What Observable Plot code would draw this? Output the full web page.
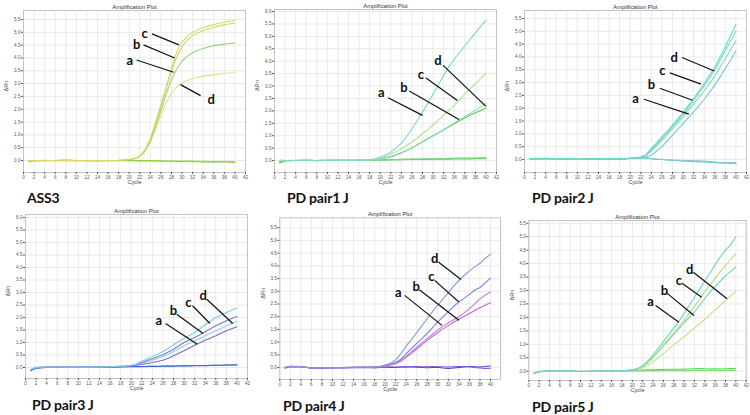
<!DOCTYPE html>
<html><head><meta charset="utf-8">
<script src="https://cdn.jsdelivr.net/npm/d3@7"></script>
<script src="https://cdn.jsdelivr.net/npm/@observablehq/plot@0.6"></script>
<style>
html,body{margin:0;padding:0;background:#fff}
body{width:750px;height:415px;position:relative;overflow:hidden;font-family:"Liberation Sans",Arial,sans-serif}
.panel{position:absolute}
.tag{position:absolute;font-family:Lato,"Open Sans",sans-serif;font-weight:700;font-size:14px;line-height:14px;color:#111;white-space:nowrap;letter-spacing:-0.2px}
</style></head><body>
<script>
// ---------- shared axes ----------
const cycles = [1,2,4,6,8,10,12,14,16,18,19,20,21,22,23,24,25,26,27,28,29,30,31,32,33,34,35,36,37,38,39,40];
const cycleTicks = [0,2,4,6,8,10,12,14,16,18,20,22,24,26,28,30,32,34,36,38,40,42];
const yTicks55 = [0,0.5,1,1.5,2,2.5,3,3.5,4,4.5,5,5.5];
const yTicks60 = [0,0.5,1,1.5,2,2.5,3,3.5,4,4.5,5,5.5,6];
const panelTitle = "Amplification Plot";
const xLabel = "Cycle";
const yLabel = "ΔRn";
const tags = ["ASS3","PD pair1 J","PD pair2 J","PD pair3 J","PD pair4 J","PD pair5 J"];

// ---------- ASS3 ----------
const p1_c = [0,0,0.01,0,0.01,0,0,0,0,0.01, 0.02,0.04,0.08,0.18,0.42,0.85,1.5,2.2,2.9,3.6,4.25,4.62,4.85,5.0,5.1,5.18,5.25,5.3,5.35,5.39,5.43,5.47];
const p1_b = [0,0,0,0,0.01,0,0,0,0,0.01, 0.02,0.04,0.08,0.17,0.4,0.8,1.43,2.1,2.8,3.48,4.05,4.45,4.7,4.87,4.98,5.07,5.14,5.2,5.25,5.29,5.33,5.36];
const p1_a = [-0.01,0,0,0,0.01,0,0,0,0,0.01, 0.02,0.04,0.07,0.16,0.38,0.75,1.33,1.95,2.6,3.15,3.58,3.88,4.07,4.2,4.3,4.37,4.43,4.48,4.51,4.54,4.56,4.58];
const p1_d = [0,0,0,0,0.01,0,0,0,0,0.01, 0.02,0.04,0.07,0.15,0.36,0.72,1.22,1.75,2.25,2.62,2.87,3.03,3.13,3.2,3.25,3.29,3.32,3.35,3.37,3.39,3.41,3.42];
const p1_n1 = [-0.03,-0.02,0,0,0.01,0,-0.01,-0.01,0,0, 0,0,0,0,0,0,-0.01,-0.01,-0.01,-0.02,-0.02,-0.02,-0.02,-0.02,-0.03,-0.03,-0.04,-0.04,-0.04,-0.04,-0.05,-0.05];
const p1_n2 = [-0.02,-0.01,0,-0.01,0,-0.01,-0.01,-0.02,-0.01,-0.01, -0.01,-0.01,-0.01,-0.02,-0.02,-0.02,-0.02,-0.03,-0.03,-0.03,-0.04,-0.04,-0.04,-0.05,-0.05,-0.06,-0.06,-0.07,-0.06,-0.06,-0.07,-0.08];

// ---------- PD pair1 J ----------
const p2_a = [0.02,0,0,0.01,0,0.01,0.01,0.01,0.02,0.03, 0.07,0.13,0.22,0.35,0.5,0.7,0.97,1.28,1.6,1.95,2.32,2.68,3.05,3.42,3.78,4.08,4.35,4.62,4.88,5.14,5.4,5.64];
const p2_c = [0.01,0,0,0.01,0,0.01,0.01,0.01,0.02,0.03, 0.06,0.1,0.17,0.26,0.36,0.48,0.61,0.75,0.91,1.08,1.25,1.43,1.62,1.82,2.02,2.22,2.44,2.67,2.88,3.09,3.3,3.52];
const p2_b = [-0.08,0,0,0.01,0,0.01,0.01,0.01,0.01,0.02, 0.04,0.07,0.11,0.16,0.23,0.31,0.41,0.52,0.64,0.76,0.88,1.0,1.12,1.24,1.36,1.48,1.6,1.71,1.82,1.92,2.02,2.12];
const p2_d = [-0.04,0,0,0.01,0,0.01,0.01,0.01,0.01,0.02, 0.04,0.06,0.1,0.15,0.22,0.3,0.4,0.51,0.63,0.75,0.87,0.99,1.11,1.24,1.38,1.51,1.64,1.77,1.9,2.03,2.16,2.3];
const p2_n1 = [-0.1,-0.02,0,0,-0.01,0,0.01,0.01,0.01,0.02, 0.02,0.03,0.03,0.04,0.04,0.04,0.05,0.05,0.05,0.05,0.05,0.06,0.06,0.06,0.06,0.07,0.07,0.07,0.07,0.08,0.08,0.08];
const p2_n2 = [-0.06,0,0.01,0.01,0,0.01,0.01,0,0.01,0.01, 0.02,0.02,0.03,0.03,0.04,0.05,0.05,0.06,0.06,0.07,0.07,0.07,0.08,0.08,0.09,0.09,0.1,0.1,0.1,0.1,0.11,0.11];

// ---------- PD pair2 J ----------
const p3_d = [0.02,0.03,0.04,0.03,0.02,0.01,0.02,0.03,0.02,0.02, 0.03,0.05,0.07,0.1,0.18,0.43,0.65,0.88,1.1,1.34,1.58,1.82,2.1,2.38,2.67,2.96,3.28,3.6,4.0,4.4,4.83,5.27];
const p3_c = [0.02,0.03,0.04,0.03,0.02,0.01,0.02,0.03,0.02,0.02, 0.03,0.05,0.07,0.1,0.17,0.38,0.6,0.82,1.05,1.28,1.52,1.76,2.02,2.3,2.6,2.86,3.17,3.48,3.86,4.24,4.62,5.02];
const p3_b = [0.01,0.03,0.04,0.03,0.02,0.01,0.02,0.03,0.02,0.02, 0.03,0.05,0.07,0.09,0.15,0.32,0.53,0.75,0.97,1.2,1.43,1.66,1.92,2.17,2.42,2.68,2.96,3.25,3.6,3.94,4.28,4.63];
const p3_a = [0.01,0.02,0.04,0.03,0.02,0.01,0.02,0.03,0.02,0.02, 0.03,0.04,0.06,0.07,0.09,0.17,0.33,0.5,0.72,0.95,1.17,1.4,1.63,1.86,2.1,2.34,2.62,2.9,3.22,3.55,3.88,4.23];
const p3_n1 = [0.02,0.03,0.05,0.03,0.02,0.01,0.02,0.03,0.02,0.02, 0.03,0.05,0.06,0.07,0.05,0.03,0.01,0,-0.02,-0.03,-0.05,-0.06,-0.07,-0.08,-0.09,-0.1,-0.11,-0.12,-0.13,-0.13,-0.14,-0.15];
const p3_n2 = [0,0.02,0.03,0.02,0,0,0.01,0.02,0.01,0.01, 0.02,0.04,0.06,0.08,0.06,0.04,0.02,0,-0.01,-0.02,-0.03,-0.04,-0.04,-0.05,-0.05,-0.06,-0.08,-0.1,-0.12,-0.13,-0.12,-0.13];

// ---------- PD pair3 J ----------
const p4_t1 = [-0.08,0,0.02,0.02,0.01,0.02,0.01,0.02,0.03,0.05, 0.06,0.08,0.14,0.25,0.35,0.43,0.53,0.64,0.77,0.91,1.04,1.17,1.28,1.4,1.55,1.71,1.86,2.0,2.1,2.2,2.29,2.37];
const p4_t2 = [-0.09,0,0.02,0.02,0.01,0.02,0.01,0.02,0.03,0.05, 0.06,0.08,0.12,0.2,0.28,0.35,0.43,0.51,0.62,0.73,0.87,1.0,1.1,1.2,1.31,1.43,1.55,1.67,1.77,1.87,1.96,2.04];
const p4_t3 = [-0.08,0,0.02,0.02,0.01,0.02,0.01,0.02,0.03,0.05, 0.06,0.08,0.11,0.17,0.23,0.29,0.36,0.43,0.53,0.64,0.76,0.87,0.97,1.07,1.17,1.27,1.37,1.47,1.57,1.67,1.76,1.84];
const p4_t4 = [-0.1,0,0.02,0.02,0.01,0.02,0.01,0.02,0.03,0.04, 0.05,0.07,0.09,0.12,0.16,0.2,0.24,0.29,0.37,0.47,0.57,0.67,0.78,0.89,0.99,1.09,1.18,1.27,1.37,1.47,1.55,1.63];
const p4_n1 = [-0.1,-0.02,0.01,0.02,0.01,0.02,0.01,0.02,0.02,0.03, 0.03,0.04,0.04,0.04,0.05,0.05,0.05,0.06,0.06,0.06,0.07,0.07,0.07,0.08,0.08,0.08,0.09,0.09,0.09,0.1,0.1,0.1];
const p4_n2 = [-0.12,-0.03,0,0.01,0.02,0.01,0.02,0.02,0.01,0.02, 0.03,0.03,0.04,0.03,0.04,0.05,0.04,0.05,0.06,0.05,0.06,0.07,0.06,0.07,0.08,0.07,0.08,0.09,0.09,0.1,0.1,0.11];

// ---------- PD pair4 J ----------
const p5_t1 = [0,0.04,0.03,-0.02,-0.01,0,0,0.01,0.01,0.02, 0.04,0.1,0.17,0.3,0.55,0.85,1.1,1.38,1.65,1.93,2.2,2.45,2.7,2.95,3.2,3.42,3.62,3.8,3.96,4.1,4.3,4.45];
const p5_t2 = [0,0.04,0.03,-0.02,-0.01,0,0,0.01,0.01,0.02, 0.04,0.08,0.13,0.2,0.33,0.55,0.75,0.95,1.15,1.34,1.57,1.8,2.0,2.2,2.4,2.58,2.72,2.88,3.04,3.15,3.33,3.52];
const p5_t3 = [0,0.04,0.03,-0.02,-0.01,0,0,0.01,0.01,0.02, 0.03,0.07,0.12,0.18,0.28,0.45,0.62,0.8,0.98,1.15,1.32,1.48,1.62,1.76,1.88,2.0,2.15,2.32,2.5,2.7,2.85,2.97];
const p5_t4 = [0,0.04,0.03,-0.02,-0.01,0,0,0.01,0.01,0.02, 0.03,0.06,0.1,0.15,0.25,0.4,0.56,0.73,0.9,1.07,1.23,1.38,1.52,1.65,1.78,1.9,2.02,2.13,2.24,2.35,2.45,2.55];
const p5_n1 = [0,0.05,0.04,-0.02,-0.02,0,-0.01,0,0.01,0.02, 0.02,0.01,0,0,0.02,0.03,0.02,0.01,0,-0.01,0,0.01,-0.02,-0.04,-0.02,0,0.02,0.04,0.03,0.02,0.04,0.06];
const p5_n2 = [-0.03,0.03,0.04,-0.03,-0.03,-0.02,-0.02,-0.01,0,-0.02, 0,0.02,0.03,0.02,0.03,0.02,0.04,0.04,0.03,0.03,0.04,0.03,0.03,0.02,0.03,0.04,0.04,0.03,0,-0.02,-0.04,-0.03];

// ---------- PD pair5 J ----------
const p6_a = [-0.08,-0.02,0.01,0,0.01,-0.01,0,0.01,0,0.02, 0.03,0.05,0.1,0.2,0.38,0.6,0.85,1.1,1.35,1.6,1.85,2.15,2.45,2.75,3.05,3.35,3.65,3.95,4.25,4.5,4.7,5.0];
const p6_c = [-0.07,-0.02,0.01,0,0.01,-0.01,0,0.01,0,0.02, 0.03,0.05,0.09,0.18,0.33,0.52,0.75,0.98,1.2,1.42,1.65,1.9,2.15,2.42,2.68,2.95,3.2,3.45,3.7,3.92,4.15,4.38];
const p6_b = [-0.08,-0.02,0.01,0,0.01,-0.01,0,0.01,0,0.02, 0.03,0.05,0.09,0.17,0.32,0.5,0.72,0.95,1.15,1.37,1.58,1.8,2.0,2.2,2.45,2.7,2.95,3.15,3.35,3.55,3.7,3.88];
const p6_d = [-0.06,-0.02,0.01,0,0.01,-0.01,0,0.01,0,0.02, 0.03,0.04,0.07,0.12,0.22,0.35,0.5,0.65,0.82,0.98,1.13,1.28,1.45,1.6,1.77,1.93,2.1,2.28,2.45,2.63,2.8,2.97];
const p6_n1 = [-0.08,-0.02,0.01,0,-0.01,0,0,-0.01,0,0, 0.01,0.02,0.03,0.04,0.05,0.05,0.06,0.06,0.07,0.07,0.07,0.08,0.08,0.09,0.1,0.09,0.08,0.09,0.08,0.09,0.1,0.1];
const p6_n2 = [-0.05,0,0,0.01,0,-0.01,0,0,0.01,0, 0.01,0.01,0.02,0.01,0.01,0.02,0.01,0.02,0.02,0.02,0.03,0.02,0.02,0.03,0.03,0.02,0.03,0.03,0.02,0.03,0.04,0.03];

// ---------- annotation anchors (cycle, ΔRn) ----------
const p1Notes = [
  {label:"c", tx:22.9, ty:4.94, x1:24.3, y1:4.94, x2:29.4, y2:4.51},
  {label:"b", tx:21.4, ty:4.51, x1:22.7, y1:4.51, x2:28.6, y2:4.0},
  {label:"a", tx:20.1, ty:3.9,  x1:21.4, y1:3.92, x2:28.4, y2:3.44},
  {label:"d", tx:35.5, ty:2.36, x1:29.7, y1:2.96, x2:33.5, y2:2.53}
];
const p2Notes = [
  {label:"a", tx:20.2, ty:2.72, x1:21.5, y1:2.53, x2:28.0, y2:1.82},
  {label:"b", tx:24.5, ty:2.93, x1:25.5, y1:2.8,  x2:34.9, y2:1.65},
  {label:"c", tx:27.7, ty:3.47, x1:28.6, y1:3.33, x2:34.6, y2:2.42},
  {label:"d", tx:30.9, ty:4.0,  x1:31.9, y1:3.83, x2:40.0, y2:2.18}
];
const p3Notes = [
  {label:"d", tx:28.3, ty:3.98, x1:29.8, y1:3.98, x2:35.9, y2:3.45},
  {label:"c", tx:26.1, ty:3.46, x1:27.5, y1:3.38, x2:33.4, y2:2.94},
  {label:"b", tx:24.0, ty:2.9,  x1:25.6, y1:2.78, x2:31.8, y2:2.31},
  {label:"a", tx:21.0, ty:2.38, x1:22.6, y1:2.35, x2:31.1, y2:1.77}
];
const p4Notes = [
  {label:"d", tx:33.6, ty:2.87, x1:34.3, y1:2.73, x2:39.2, y2:1.76},
  {label:"c", tx:30.8, ty:2.6,  x1:31.6, y1:2.47, x2:34.9, y2:1.76},
  {label:"b", tx:28.0, ty:2.27, x1:28.6, y1:2.13, x2:33.6, y2:1.36},
  {label:"a", tx:25.2, ty:1.87, x1:26.5, y1:1.76, x2:32.5, y2:0.93}
];
const p5Notes = [
  {label:"d", tx:29.4, ty:4.28, x1:30.1, y1:4.15, x2:34.4, y2:3.46},
  {label:"c", tx:28.8, ty:3.56, x1:29.4, y1:3.43, x2:34.0, y2:2.58},
  {label:"b", tx:25.9, ty:3.17, x1:26.5, y1:3.06, x2:34.0, y2:1.86},
  {label:"a", tx:22.5, ty:2.93, x1:23.7, y1:2.84, x2:30.8, y2:1.66}
];
const p6Notes = [
  {label:"d", tx:31.1, ty:3.77, x1:31.8, y1:3.68, x2:38.3, y2:2.69},
  {label:"c", tx:29.0, ty:3.37, x1:29.6, y1:3.27, x2:33.4, y2:2.75},
  {label:"b", tx:26.2, ty:3.0,  x1:26.7, y1:2.9,  x2:31.9, y2:2.07},
  {label:"a", tx:23.5, ty:2.57, x1:24.5, y1:2.44, x2:29.0, y2:1.82}
];

// ---------- panel layout ----------
const panels = [
  {left:0, top:0, w:250, h:200, mL:23, mR:5, mT:10, mB:28, x:[0,42], y:[-0.468,5.85], yt:yTicks55, notes:p1Notes, tag:tags[0], tagX:27, tagY:190.5,
   series:[[p1_n1,"#a9d24a"],[p1_n2,"#93c83a"],[p1_d,"#e3e08c"],[p1_a,"#8fd676"],[p1_b,"#bedd6c"],[p1_c,"#e4d26a"]]},
  {left:250, top:0, w:250, h:200, mL:24, mR:4, mT:9, mB:28, x:[0,42], y:[-0.48,6.08], yt:yTicks60, notes:p2Notes, tag:tags[1], tagX:287, tagY:190.5,
   series:[[p2_n1,"#4fd24f"],[p2_n2,"#78d878"],[p2_b,"#63c84a"],[p2_d,"#8cdcc0"],[p2_c,"#b2e48c"],[p2_a,"#7ed8c6"]]},
  {left:500, top:0, w:250, h:200, mL:24, mR:4, mT:10, mB:28, x:[0,42], y:[-0.507,5.81], yt:yTicks55, notes:p3Notes, tag:tags[2], tagX:532, tagY:190.5,
   series:[[p3_n1,"#45c98f"],[p3_n2,"#8fbfe2"],[p3_a,"#79c2e6"],[p3_b,"#84dba4"],[p3_c,"#6fdccf"],[p3_d,"#66d6c8"]]},
  {left:0, top:200, w:250, h:215, mL:25, mR:3, mT:14, mB:37, x:[0,42], y:[-0.44,6.12], yt:yTicks60, notes:p4Notes, tag:tags[3], tagX:32, tagY:397.7,
   series:[[p4_n1,"#3b82d8"],[p4_n2,"#4866cf"],[p4_t4,"#7c6ac8"],[p4_t3,"#84d6e2"],[p4_t2,"#8674cc"],[p4_t1,"#78d0e6"]]},
  {left:250, top:200, w:250, h:215, mL:29.3, mR:0, mT:17.3, mB:36, x:[0,41.9], y:[-0.47,5.89], yt:yTicks55, notes:p5Notes, tag:tags[4], tagX:283, tagY:398.7,
   series:[[p5_n1,"#5a3cd2"],[p5_n2,"#8a50d8"],[p5_t4,"#b46ad4"],[p5_t3,"#c47ee0"],[p5_t2,"#7a84d8"],[p5_t1,"#7f9adc"]]},
  {left:500, top:200, w:250, h:215, mL:28.3, mR:4.3, mT:20, mB:35, x:[0,42], y:[-0.346,5.6], yt:yTicks55, notes:p6Notes, tag:tags[5], tagX:532, tagY:400,
   series:[[p6_n1,"#58d458"],[p6_n2,"#8ad87a"],[p6_d,"#c2e08a"],[p6_b,"#6fd2b8"],[p6_c,"#b8df7a"],[p6_a,"#6ad8c4"]]}
];

const fmt = d3.format(".1f");
for (const p of panels) {
  const xt = cycleTicks.filter(t => t <= p.x[1]);
  const marks = [
    Plot.gridX(xt, {stroke:"#e4e4e4", strokeOpacity:1, strokeWidth:0.8}),
    Plot.gridY(p.yt, {stroke:"#e4e4e4", strokeOpacity:1, strokeWidth:0.8}),
    Plot.frame({stroke:"#c4c4c4"}),
    Plot.axisX(xt, {tickSize:2, tickPadding:1, fontSize:4.6, color:"#555", label:null}),
    Plot.axisY(p.yt, {tickSize:2, tickPadding:1, fontSize:4.6, color:"#555", tickFormat:fmt, label:null}),
    Plot.text([panelTitle], {text:d=>d, frameAnchor:"top", dy:-5.5, fontSize:5.8, fill:"#333"}),
    Plot.text([xLabel], {text:d=>d, frameAnchor:"bottom", dy:11.5, fontSize:5.6, fill:"#444"}),
    Plot.text([yLabel], {text:d=>d, frameAnchor:"left", dx:-17, rotate:-90, fontSize:5.6, fill:"#444"})
  ];
  for (const [vals, color] of p.series) {
    marks.push(Plot.line(cycles.map((c,i)=>({cycle:c, value:vals[i]})), {x:"cycle", y:"value", stroke:color, strokeWidth:1.1, clip:true}));
  }
  marks.push(Plot.link(p.notes, {x1:"x1", y1:"y1", x2:"x2", y2:"y2", stroke:"#111", strokeWidth:1.2}));
  marks.push(Plot.text(p.notes, {x:"tx", y:"ty", text:"label", fontSize:13, fontWeight:"bold", fontFamily:"Lato, 'Open Sans', sans-serif", fill:"#111"}));
  const svg = Plot.plot({
    width:p.w, height:p.h,
    marginLeft:p.mL, marginRight:p.mR, marginTop:p.mT, marginBottom:p.mB,
    x:{domain:p.x}, y:{domain:p.y},
    style:{fontFamily:"'Liberation Sans', Arial, sans-serif", background:"transparent", overflow:"visible"},
    marks
  });
  const wrap = document.createElement("div");
  wrap.className = "panel";
  wrap.style.left = p.left + "px";
  wrap.style.top = p.top + "px";
  wrap.appendChild(svg);
  document.body.appendChild(wrap);
  const t = document.createElement("div");
  t.className = "tag";
  t.textContent = p.tag;
  t.style.left = p.tagX + "px";
  t.style.top = p.tagY + "px";
  document.body.appendChild(t);
}
</script>
</body></html>
